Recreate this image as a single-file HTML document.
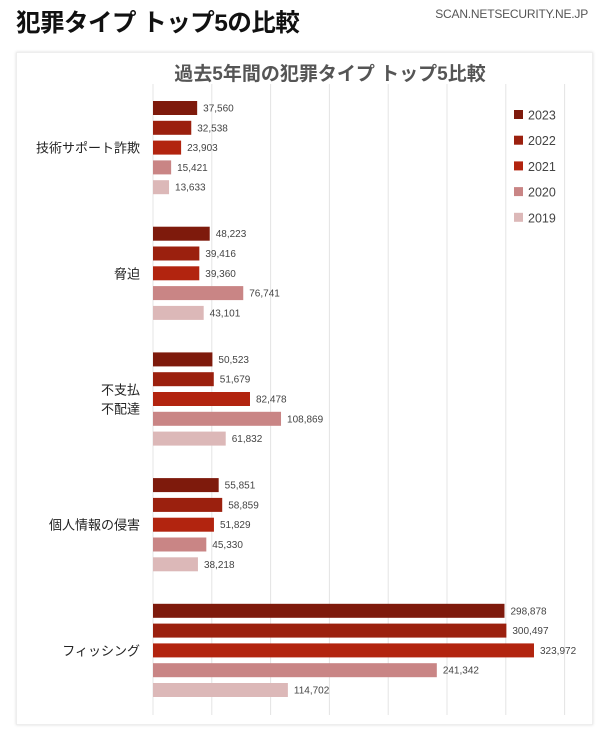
<!DOCTYPE html>
<html><head><meta charset="utf-8"><style>
body{margin:0;width:600px;height:736px;background:#fff;font-family:"Liberation Sans","Noto Sans CJK JP",sans-serif;overflow:hidden;position:relative}
#h{position:absolute;left:16px;top:4px;font-size:24.5px;font-weight:bold;color:#111;letter-spacing:-0.5px}
#site{position:absolute;right:12px;top:7px;font-size:12px;color:#555;letter-spacing:-0.2px}
#card{position:absolute;left:16px;top:52px;width:575px;height:671px;background:#fff;box-shadow:0 0 3px #ddd;border:1px solid #eee}
</style></head><body>
<div id="h">犯罪タイプ トップ5の比較</div>
<div id="site">SCAN.NETSECURITY.NE.JP</div>
<div id="card"></div>
<svg id="chart" width="600" height="736" style="position:absolute;left:0;top:0" font-family="Liberation Sans, Noto Sans CJK JP, sans-serif">
<text x="330" y="80" text-anchor="middle" font-size="19" font-weight="bold" fill="#555">過去5年間の犯罪タイプ トップ5比較</text>
</svg>
<script>
const categories=[["技術サポート詐欺"],["脅迫"],["不支払","不配達"],["個人情報の侵害"],["フィッシング"]];
const years=["2023","2022","2021","2020","2019"];
const v2023=[37560,48223,50523,55851,298878];
const v2022=[32538,39416,51679,58859,300497];
const v2021=[23903,39360,82478,51829,323972];
const v2020=[15421,76741,108869,45330,241342];
const v2019=[13633,43101,61832,38218,114702];
const gridTicks=[0,50000,100000,150000,200000,250000,300000,350000];
const series=[v2023,v2022,v2021,v2020,v2019];
const colors=["#7e1a0c","#9b200e","#b2240f","#c98585","#dcb8b8"];
const svg=document.getElementById('chart');
const NS="http://www.w3.org/2000/svg";
const x0=153,xPer=58.8/50000;
const xs=v=>x0+v*xPer;
const groupTop=101,groupStep=125.7,barStep=19.8,barH=14;
function mk(t,a){const e=document.createElementNS(NS,t);for(const k in a)e.setAttribute(k,a[k]);svg.appendChild(e);return e;}
gridTicks.forEach(t=>{
  const l=mk('line',{x1:xs(t),x2:xs(t),y1:84,y2:715,stroke:'#e4e4e4','stroke-width':1});
  
  
});
categories.forEach((c,i)=>{
  const cy=groupTop+i*groupStep+2*barStep+barH/2;
  c.forEach((ln,j)=>{
    const t=mk('text',{x:140,y:cy+5+(j-(c.length-1)/2)*19,'text-anchor':'end','font-size':13,fill:'#222'});
    t.textContent=ln;
    
    
  });
  series.forEach((s,k)=>{
    const y=groupTop+i*groupStep+k*barStep;
    const r=mk('rect',{x:x0,y:y,width:xs(s[i])-x0,height:barH,fill:colors[k]});
    
    
    const t=mk('text',{x:xs(s[i])+6,y:y+barH/2+3.5,'font-size':10,fill:'#444'});
    t.textContent=s[i].toLocaleString('en-US');
    
    
  });
});
years.forEach((yr,k)=>{
  const y=115+k*25.7;
  const r=mk('rect',{x:514,y:y-5,width:9,height:9,fill:colors[k]});
  
  
  const t=mk('text',{x:528,y:y+4.5,'font-size':12.5,fill:'#444'});
  t.textContent=yr;
  
  
});
</script>
</body></html>
